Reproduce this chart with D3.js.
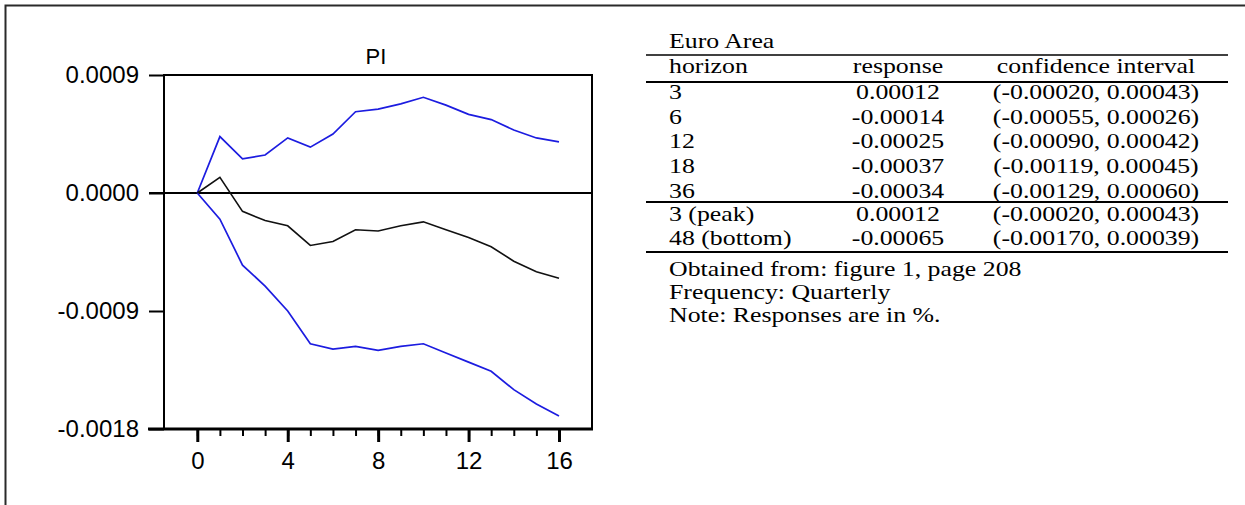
<!DOCTYPE html>
<html>
<head>
<meta charset="utf-8">
<script src="https://cdn.jsdelivr.net/npm/d3@7"></script>
<style>
  html, body { margin: 0; padding: 0; background: #fff; }
  svg { display: block; }
</style>
</head>
<body>
<svg id="fig" width="1245" height="505"></svg>
<script>
// Impulse response of PI: point estimate and confidence band, quarterly steps
const steps = [0, 1, 2, 3, 4, 5, 6, 7, 8, 9, 10, 11, 12, 13, 14, 15, 16];
const response = [0, 0.00012, -0.00014, -0.00021, -0.00025, -0.00040, -0.00037, -0.00028, -0.00029,
                  -0.00025, -0.00022, -0.00028, -0.00034, -0.00041, -0.00052, -0.00060, -0.00065];
const upperBand = [0, 0.00043, 0.00026, 0.00029, 0.00042, 0.00035, 0.00045, 0.00062, 0.00064,
                   0.00068, 0.00073, 0.00067, 0.00060, 0.00056, 0.00048, 0.00042, 0.00039];
const lowerBand = [0, -0.00020, -0.00055, -0.00071, -0.00090, -0.00115, -0.00119, -0.00117, -0.00120,
                   -0.00117, -0.00115, -0.00122, -0.00129, -0.00136, -0.00150, -0.00161, -0.00170];

const yTicks = [-0.0018, -0.0009, 0, 0.0009];
const xMajorTicks = [0, 4, 8, 12, 16];
const xMinorTicks = [0, 1, 2, 3, 4, 5, 6, 7, 8, 9, 10, 11, 12, 13, 14, 15, 16];
const chartTitle = "PI";

// Summary table
const tableTitle = "Euro Area";
const tableHeader = ["horizon", "response", "confidence interval"];
const rowHorizons = ["3", "6", "12", "18", "36"];
const rowResponses = ["0.00012", "-0.00014", "-0.00025", "-0.00037", "-0.00034"];
const rowIntervals = ["(-0.00020, 0.00043)", "(-0.00055, 0.00026)", "(-0.00090, 0.00042)",
                      "(-0.00119, 0.00045)", "(-0.00129, 0.00060)"];
const extremeHorizons = ["3 (peak)", "48 (bottom)"];
const extremeResponses = ["0.00012", "-0.00065"];
const extremeIntervals = ["(-0.00020, 0.00043)", "(-0.00170, 0.00039)"];
const tableNotes = ["Obtained from: figure 1, page 208", "Frequency: Quarterly", "Note: Responses are in %."];

const svg = d3.select("#fig");

// page border (top and left edges)
svg.append("path")
  .attr("d", "M5.5,505 V5.5 H1245")
  .attr("fill", "none")
  .attr("stroke", "#2a2a2a")
  .attr("stroke-width", 2);

// ---- chart ----
const frame = { left: 164, right: 592, top: 75, bottom: 429 };
const x = d3.scaleLinear().domain([0, 16]).range([197.3, 559]);
const y = d3.scaleLinear().domain([-0.0018, 0.0009]).range([frame.bottom, frame.top]);

const locale = d3.formatLocale({ decimal: ".", thousands: ",", grouping: [3], currency: ["", ""], minus: "-" });
const yFmt = locale.format(".4f");

const sansFont = "'Liberation Sans', Arial, Helvetica, sans-serif";

const chart = svg.append("g");

// frame: top, left, right
chart.append("path")
  .attr("d", `M${frame.left},${frame.bottom} V${frame.top} H${frame.right} V${frame.bottom}`)
  .attr("fill", "none").attr("stroke", "#000").attr("stroke-width", 2);

// zero line
chart.append("line")
  .attr("x1", frame.left - 15).attr("x2", frame.right)
  .attr("y1", y(0)).attr("y2", y(0))
  .attr("stroke", "#000").attr("stroke-width", 2);

// y axis
const yAxis = chart.append("g")
  .attr("transform", `translate(${frame.left},0)`)
  .call(d3.axisLeft(y).tickValues(yTicks).tickSize(15).tickPadding(10).tickFormat(yFmt));
yAxis.select(".domain").remove();
yAxis.selectAll(".tick line").attr("stroke", "#000").attr("stroke-width", 2);
yAxis.selectAll(".tick text")
  .attr("font-family", sansFont).attr("font-size", 24).attr("fill", "#000");

// x axis: minor ticks, then major ticks with labels
const xMinor = chart.append("g")
  .attr("transform", `translate(0,${frame.bottom})`)
  .call(d3.axisBottom(x).tickValues(xMinorTicks).tickSize(7).tickFormat(""));
xMinor.select(".domain").remove();
xMinor.selectAll(".tick line").attr("stroke", "#000").attr("stroke-width", 2);

const xAxis = chart.append("g")
  .attr("transform", `translate(0,${frame.bottom})`)
  .call(d3.axisBottom(x).tickValues(xMajorTicks).tickSize(13).tickPadding(10));
xAxis.select(".domain").remove();
xAxis.selectAll(".tick line").attr("stroke", "#000").attr("stroke-width", 3);
xAxis.selectAll(".tick text")
  .attr("font-family", sansFont).attr("font-size", 24).attr("fill", "#000");

// bottom axis line
chart.append("line")
  .attr("x1", frame.left - 16).attr("x2", frame.right + 1)
  .attr("y1", frame.bottom).attr("y2", frame.bottom)
  .attr("stroke", "#000").attr("stroke-width", 3);

// series
const line = d3.line().x((d, i) => x(steps[i])).y(d => y(d));
chart.append("path").datum(upperBand)
  .attr("d", line).attr("fill", "none").attr("stroke", "#1c1ce0").attr("stroke-width", 1.7);
chart.append("path").datum(lowerBand)
  .attr("d", line).attr("fill", "none").attr("stroke", "#1c1ce0").attr("stroke-width", 1.7);
chart.append("path").datum(response)
  .attr("d", line).attr("fill", "none").attr("stroke", "#111").attr("stroke-width", 1.6);

// title
chart.append("text")
  .attr("x", 376).attr("y", 64)
  .attr("text-anchor", "middle")
  .attr("font-family", sansFont).attr("font-size", 22)
  .text(chartTitle);

// ---- table ----
const serifFont = "'Liberation Serif', 'Times New Roman', serif";
const tbl = svg.append("g");
const fontSize = 20;
const stretch = 1.29;
const col = { horizon: 669, response: 898, interval: 1096 };
const rule = { left: 646, right: 1228 };

function cell(str, xPos, yPos, anchor) {
  tbl.append("text")
    .attr("transform", `translate(${xPos},${yPos}) scale(${stretch},1)`)
    .attr("text-anchor", anchor)
    .attr("font-family", serifFont)
    .attr("font-size", fontSize)
    .attr("fill", "#000")
    .text(str);
}
function hrule(yPos, w) {
  tbl.append("line")
    .attr("x1", rule.left).attr("x2", rule.right)
    .attr("y1", yPos).attr("y2", yPos)
    .attr("stroke", "#000").attr("stroke-width", w);
}

cell(tableTitle, col.horizon, 48, "start");
hrule(55, 1.6);
cell(tableHeader[0], col.horizon, 73, "start");
cell(tableHeader[1], col.response, 73, "middle");
cell(tableHeader[2], col.interval, 73, "middle");
hrule(82, 2.2);

const rowBaselines = [99, 124, 148, 173, 198];
rowHorizons.forEach((h, i) => {
  cell(h, col.horizon, rowBaselines[i], "start");
  cell(rowResponses[i], col.response, rowBaselines[i], "middle");
  cell(rowIntervals[i], col.interval, rowBaselines[i], "middle");
});
hrule(202, 2.2);

const extremeBaselines = [221, 245];
extremeHorizons.forEach((h, i) => {
  cell(h, col.horizon, extremeBaselines[i], "start");
  cell(extremeResponses[i], col.response, extremeBaselines[i], "middle");
  cell(extremeIntervals[i], col.interval, extremeBaselines[i], "middle");
});
hrule(252, 2.2);

const noteBaselines = [276, 299, 322];
tableNotes.forEach((n, i) => cell(n, col.horizon, noteBaselines[i], "start"));
</script>
</body>
</html>
